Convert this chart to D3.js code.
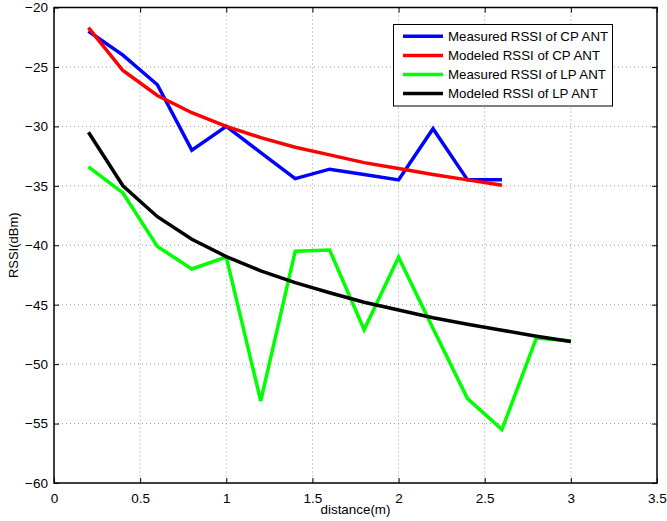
<!DOCTYPE html>
<html>
<head>
<meta charset="utf-8">
<script src="https://cdn.jsdelivr.net/npm/d3@7"></script>
<style>
    body { margin: 0; background: #fff; }
    svg text { font-family: "Liberation Sans", Arial, sans-serif; }
</style>
</head>
<body>
<div id="chart"></div>
<script>
//
// RSSI vs distance, CP / LP antennas
//

var distCP = [0.2, 0.4, 0.6, 0.8, 1.0, 1.2, 1.4, 1.6, 1.8, 2.0, 2.2, 2.4, 2.6];
var distLP = [0.2, 0.4, 0.6, 0.8, 1.0, 1.2, 1.4, 1.6, 1.8, 2.0, 2.2, 2.4, 2.6, 2.8, 3.0];

var measuredCP = [-22.0, -24.0, -26.5, -32.0, -30.0, -32.2, -34.4, -33.6, -34.05, -34.5, -30.2, -34.5, -34.5];
var modeledCP = [-21.7, -25.3, -27.4, -28.85, -30.0, -30.95, -31.75, -32.4, -33.05, -33.55, -34.05, -34.5, -34.95];
var measuredLP = [-33.4, -35.6, -40.1, -42.0, -41.0, -53.1, -40.5, -40.4, -47.1, -41.0, -47.0, -52.9, -55.5, -47.8, -48.05];
var modeledLP = [-30.5, -35.0, -37.6, -39.5, -40.95, -42.15, -43.15, -44.0, -44.8, -45.45, -46.1, -46.65, -47.15, -47.65, -48.1];

var xTicks = [0, 0.5, 1, 1.5, 2, 2.5, 3, 3.5];
var yTicks = [-60, -55, -50, -45, -40, -35, -30, -25, -20];

var seriesNames = ['Measured RSSI of CP ANT', 'Modeled RSSI of CP ANT', 'Measured RSSI of LP ANT', 'Modeled RSSI of LP ANT'];
var seriesColors = ['#0000ff', '#ff0000', '#00ff00', '#000000'];

var width = 667;
var height = 521;
var marginLeft = 54;
var marginRight = 10;
var marginTop = 7.5;
var marginBottom = 38;

var svg = d3.select("#chart")
    .append("svg")
    .attr("width", width)
    .attr("height", height);

var x = d3.scaleLinear().domain([0, 3.5]).range([marginLeft, width - marginRight]);
var y = d3.scaleLinear().domain([-60, -20]).range([height - marginBottom, marginTop]);

var plotW = width - marginLeft - marginRight;
var plotH = height - marginTop - marginBottom;

// grid (dotted)
var grid = svg.append("g").attr("class", "grid");
grid.selectAll("line.gx")
    .data(xTicks.slice(1, -1))
    .enter()
    .append("line")
    .attr("x1", function (d) { return x(d); })
    .attr("x2", function (d) { return x(d); })
    .attr("y1", marginTop)
    .attr("y2", height - marginBottom)
    .attr("stroke", "#999")
    .attr("stroke-width", 1)
    .attr("stroke-dasharray", "1,3");
grid.selectAll("line.gy")
    .data(yTicks.slice(1, -1))
    .enter()
    .append("line")
    .attr("y1", function (d) { return y(d); })
    .attr("y2", function (d) { return y(d); })
    .attr("x1", marginLeft)
    .attr("x2", width - marginRight)
    .attr("stroke", "#999")
    .attr("stroke-width", 1)
    .attr("stroke-dasharray", "1,3");

// lines
var data = [
    { name: seriesNames[0], xs: distCP, ys: measuredCP, color: seriesColors[0] },
    { name: seriesNames[1], xs: distCP, ys: modeledCP, color: seriesColors[1] },
    { name: seriesNames[2], xs: distLP, ys: measuredLP, color: seriesColors[2] },
    { name: seriesNames[3], xs: distLP, ys: modeledLP, color: seriesColors[3] }
];

var line = d3.line()
    .x(function (d) { return x(d[0]); })
    .y(function (d) { return y(d[1]); });

svg.append("g")
    .selectAll("path")
    .data(data)
    .enter()
    .append("path")
    .attr("fill", "none")
    .attr("stroke", function (d) { return d.color; })
    .attr("stroke-width", 3.5)
    .attr("stroke-linejoin", "miter")
    .attr("d", function (d) { return line(d.xs.map(function (v, i) { return [v, d.ys[i]]; })); });

// axes box with inward ticks on all sides
var fmt = function (d) { return String(d).replace("-", "\u2212"); };

svg.append("g")
    .attr("class", "x axis")
    .attr("transform", "translate(0," + (height - marginBottom) + ")")
    .call(d3.axisBottom(x).tickValues(xTicks).tickSize(-5).tickPadding(10).tickFormat(fmt));
svg.append("g")
    .attr("class", "y axis")
    .attr("transform", "translate(" + marginLeft + ",0)")
    .call(d3.axisLeft(y).tickValues(yTicks).tickSize(-5).tickPadding(6).tickFormat(fmt));
svg.append("g")
    .attr("transform", "translate(0," + marginTop + ")")
    .call(d3.axisTop(x).tickValues(xTicks).tickSize(-5).tickFormat(""));
svg.append("g")
    .attr("transform", "translate(" + (width - marginRight) + ",0)")
    .call(d3.axisRight(y).tickValues(yTicks).tickSize(-5).tickFormat(""));

svg.selectAll(".domain").remove();
svg.selectAll(".tick line").attr("stroke", "#000").attr("stroke-width", 1);
svg.selectAll(".axis text")
    .style("font-size", "13.5px")
    .attr("fill", "#000");

svg.append("rect")
    .attr("x", marginLeft)
    .attr("y", marginTop)
    .attr("width", plotW)
    .attr("height", plotH)
    .attr("fill", "none")
    .attr("stroke", "#000")
    .attr("stroke-width", 1.5);

// axis labels
svg.append("text")
    .attr("x", x(1.75))
    .attr("y", 514)
    .style("text-anchor", "middle")
    .style("font-size", "13.4px")
    .text("distance(m)");

svg.append("text")
    .attr("transform", "rotate(-90)")
    .attr("x", -y(-40))
    .attr("y", 18)
    .style("text-anchor", "middle")
    .style("font-size", "13px")
    .text("RSSI(dBm)");

// legend
var legend = svg.append("g").attr("class", "legend");
legend.append("rect")
    .attr("x", 393.5)
    .attr("y", 24.5)
    .attr("width", 219)
    .attr("height", 81.5)
    .attr("fill", "#fff")
    .attr("stroke", "#000")
    .attr("stroke-width", 1);

var rows = legend.selectAll("g.row")
    .data(data)
    .enter()
    .append("g")
    .attr("transform", function (d, idx) { return "translate(0," + (36.3 + idx * 19.1) + ")"; });
rows.append("line")
    .attr("x1", 403)
    .attr("x2", 443)
    .attr("stroke", function (d) { return d.color; })
    .attr("stroke-width", 3.5);
rows.append("text")
    .attr("x", 448)
    .attr("dy", "0.35em")
    .style("font-size", "13.3px")
    .text(function (d) { return d.name; });
</script>
</body>
</html>
